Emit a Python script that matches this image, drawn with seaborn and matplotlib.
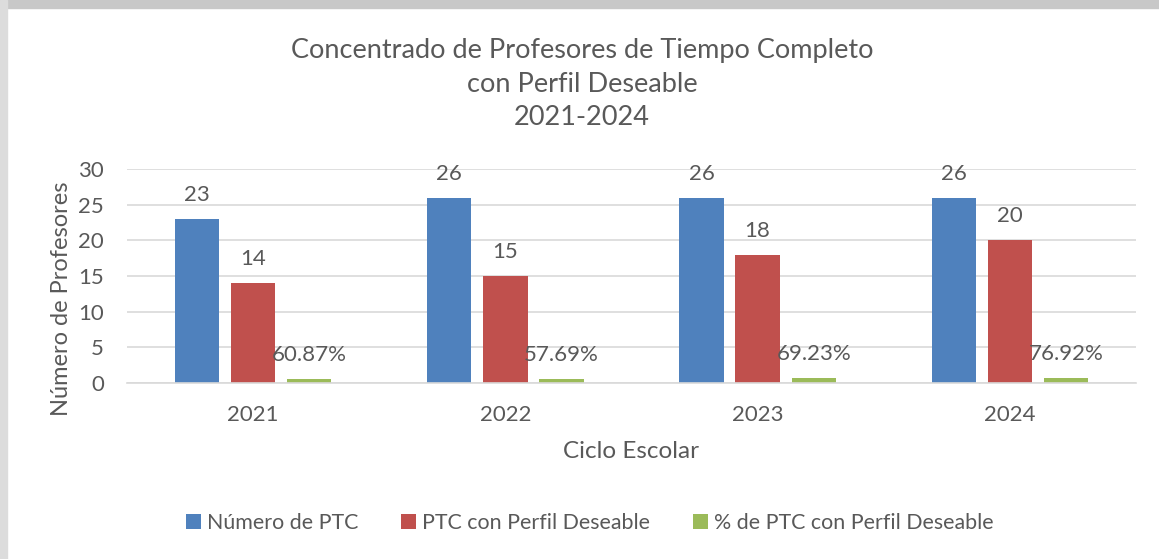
import pandas as pd
import matplotlib.pyplot as plt
import seaborn as sns
from matplotlib.patches import Rectangle

# datos
ciclos = ['2021', '2022', '2023', '2024']
num_ptc = [23, 26, 26, 26]
ptc_perfil = [14, 15, 18, 20]
pct_perfil = [0.6087, 0.5769, 0.6923, 0.7692]
series = ['Número de PTC', 'PTC con Perfil Deseable', '% de PTC con Perfil Deseable']
colores = ['#4F81BD', '#C0504D', '#9BBB59']
gris = '#595959'

df = pd.DataFrame({
    'ciclo': ciclos * 3,
    'serie': [series[0]] * 4 + [series[1]] * 4 + [series[2]] * 4,
    'valor': num_ptc + ptc_perfil + pct_perfil,
})

sns.set_style("white")
plt.rcParams['font.family'] = ['Lato', 'DejaVu Sans']

fig = plt.figure(figsize=(11.59, 5.59), dpi=100)
fig.patch.set_facecolor('white')
# marco gris del recorte original
fig.patches.append(Rectangle((0, 1 - 8 / 559), 1, 8 / 559, transform=fig.transFigure,
                             color='#C8C8C8', zorder=0))
fig.patches.append(Rectangle((0, 0), 7 / 1159, 1, transform=fig.transFigure,
                             color='#DCDCDC', zorder=0))

ax = fig.add_axes([127 / 1159, 1 - 383 / 559, 1009 / 1159, 214 / 559])
sns.barplot(data=df, x='ciclo', y='valor', hue='serie', palette=colores,
            width=0.667, gap=0.21, ax=ax, saturation=1, linewidth=0)

ax.set_ylim(0, 30)
ax.set_yticks(range(0, 31, 5))
ax.yaxis.grid(True, color='#D9D9D9', linewidth=1.2)
ax.set_axisbelow(True)
for s in ['top', 'right', 'left']:
    ax.spines[s].set_visible(False)
ax.spines['bottom'].set_color('#D9D9D9')
ax.spines['bottom'].set_linewidth(1.2)
ax.tick_params(axis='both', length=0, labelsize=16, colors=gris)
ax.tick_params(axis='y', pad=16.5)
ax.tick_params(axis='x', pad=15.5)
ax.set_xlabel('')
ax.set_ylabel('')

# etiquetas de datos
ax.bar_label(ax.containers[0], labels=[str(v) for v in num_ptc], padding=10,
             fontsize=16, color=gris)
ax.bar_label(ax.containers[1], labels=[str(v) for v in ptc_perfil], padding=10,
             fontsize=16, color=gris)
ax.bar_label(ax.containers[2], labels=[f'{v * 100:.2f}%' for v in pct_perfil],
             padding=10, fontsize=16, color=gris)

handles, labels = ax.get_legend_handles_labels()
ax.get_legend().remove()
fig.legend(handles, labels, loc='center', bbox_to_anchor=(590 / 1159, 1 - 523 / 559),
           ncol=3, frameon=False, fontsize=15.4, labelcolor=gris,
           handlelength=0.7, handleheight=0.7, handletextpad=0.28, columnspacing=2.0)

fig.text(582 / 1159, 1 - 84 / 559,
         'Concentrado de Profesores de Tiempo Completo\ncon Perfil Deseable\n2021-2024',
         ha='center', va='center', fontsize=19.5, color=gris, linespacing=1.42)
fig.text(631 / 1159, 1 - 452 / 559, 'Ciclo Escolar', ha='center', va='center',
         fontsize=17.5, color=gris)
fig.text(62 / 1159, 1 - 299 / 559, 'Número de Profesores', ha='center', va='center',
         rotation=90, fontsize=17, color=gris)

plt.savefig('out.png', dpi=100)
plt.close()
